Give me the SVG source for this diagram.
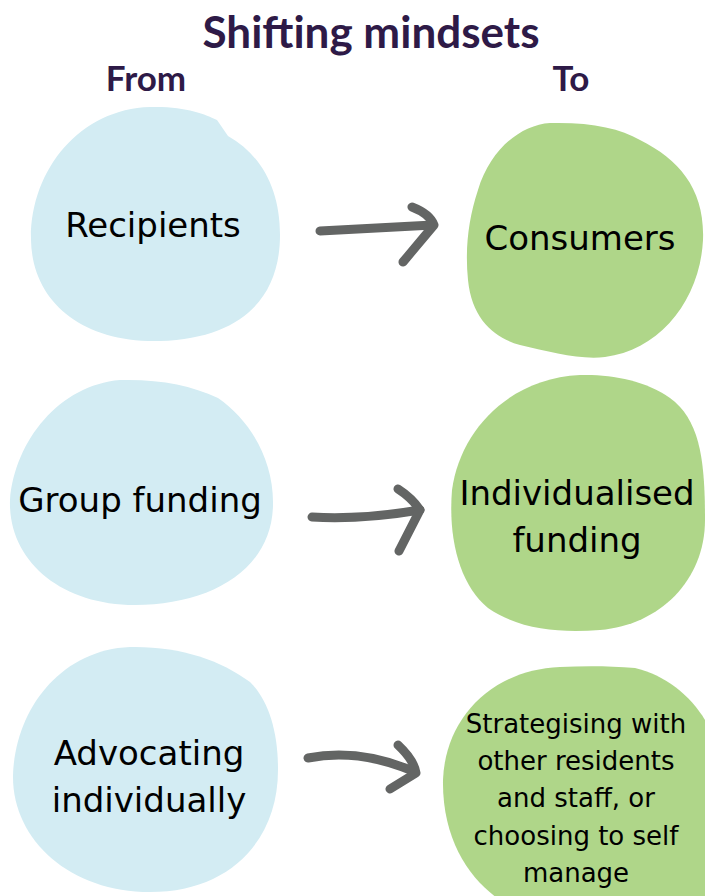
<svg xmlns="http://www.w3.org/2000/svg" width="705" height="896" viewBox="0 0 705 896">
<style>
.title{font-family:Lato,"Liberation Sans",sans-serif;font-weight:bold;fill:#2e1a47}
.from{fill:#d3ecf3}
.to{fill:#afd689}
.lbl{font-family:"DejaVu Sans","Liberation Sans",sans-serif;fill:#000;text-anchor:middle}
.arr{fill:none;stroke:#636564;stroke-width:9;stroke-linecap:round;stroke-linejoin:round}
</style>
<rect width="705" height="896" fill="#fff"/>
<g id="header">
<text class="title" x="371" y="48" font-size="44" text-anchor="middle">Shifting mindsets</text>
<text class="title" x="146" y="91" font-size="35" text-anchor="middle">From</text>
<text class="title" x="571" y="91" font-size="35" text-anchor="middle">To</text>
</g>
<g id="recipients">
<path class="from" d="M 150 107 C 185 106, 205 114, 217 120 L 228 136 C 262 155, 280 190, 280 235 C 280 295, 245 338, 160 341 C 80 343, 32 300, 31 240 C 30 170, 80 109, 150 107 Z"/>
<text class="lbl" x="153" y="237" font-size="34">Recipients</text>
</g>
<g id="consumers">
<path class="to" d="M 550 123 C 520 125, 490 150, 478 190 C 468 220, 465 250, 468 280 C 472 320, 495 338, 520 345 C 550 352, 580 360, 605 357 C 660 350, 700 300, 703 240 C 705 190, 680 160, 640 140 C 620 128, 590 122, 550 123 Z"/>
<text class="lbl" x="580" y="250" font-size="34">Consumers</text>
</g>
<g id="group-funding">
<path class="from" d="M 120 380 C 60 385, 15 440, 10 500 C 8 560, 60 605, 135 605 C 210 605, 272 570, 273 505 C 274 460, 250 420, 218 398 C 190 385, 160 379, 120 380 Z"/>
<text class="lbl" x="140" y="512" font-size="34">Group funding</text>
</g>
<g id="individualised-funding">
<path class="to" d="M 580 375 C 510 378, 460 430, 452 490 C 448 540, 460 585, 488 608 C 520 630, 560 633, 600 630 C 660 625, 705 580, 705 520 C 705 460, 700 420, 670 398 C 645 380, 610 374, 580 375 Z"/>
<text class="lbl" x="577" y="505" font-size="34">Individualised</text>
<text class="lbl" x="577" y="552" font-size="34">funding</text>
</g>
<g id="advocating-individually">
<path class="from" d="M 130 647 C 60 650, 15 710, 13 775 C 12 840, 70 892, 150 892 C 230 892, 278 840, 278 770 C 278 730, 268 700, 250 682 C 220 660, 180 646, 130 647 Z"/>
<text class="lbl" x="149" y="765" font-size="34">Advocating</text>
<text class="lbl" x="149" y="812" font-size="34">individually</text>
</g>
<g id="strategising">
<path class="to" d="M 560 667 C 490 670, 445 720, 443 780 C 442 840, 470 880, 500 900 L 705 900 L 705 720 C 690 695, 665 675, 635 668 C 610 666, 585 666, 560 667 Z"/>
<text class="lbl" x="576" y="733" font-size="26">Strategising with</text>
<text class="lbl" x="576" y="770" font-size="26">other residents</text>
<text class="lbl" x="576" y="807" font-size="26">and staff, or</text>
<text class="lbl" x="576" y="845" font-size="26">choosing to self</text>
<text class="lbl" x="576" y="882" font-size="26">manage</text>
</g>
<g id="connectors">
<path class="arr" d="M 320 231 C 360 229, 400 227, 433 225"/>
<path class="arr" d="M 412 207 Q 430 214 434 225 L 403 262"/>
<path class="arr" d="M 312 517 Q 360 520 420 510"/>
<path class="arr" d="M 398 489 Q 412 498 420 510 L 399 551"/>
<path class="arr" d="M 308 758 Q 360 748 415 772"/>
<path class="arr" d="M 398 745 Q 414 760 416 773 L 390 789"/>
</g>
</svg>
